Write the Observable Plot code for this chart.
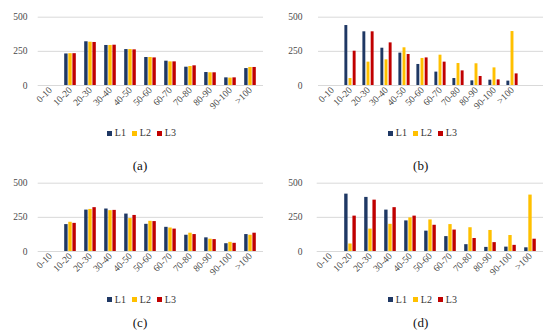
<!DOCTYPE html>
<html><head><meta charset="utf-8">
<script src="https://cdn.jsdelivr.net/npm/d3@7"></script>
<script src="https://cdn.jsdelivr.net/npm/@observablehq/plot@0.6"></script>
<style>
body{margin:0;background:#fff;}
#root{position:relative;width:550px;height:335px;overflow:hidden;background:#fff;font-family:"Liberation Serif","Times New Roman",serif;}
.panel{position:absolute;width:275px;height:168px;}
.panel svg{position:absolute;left:0;top:0;overflow:visible;}
.lg{position:absolute;font-size:10px;color:#333;white-space:nowrap;line-height:1;}
.sw{position:absolute;width:5px;height:5px;}
.cap{position:absolute;font-size:13px;color:#111;transform:translate(-50%,-50%);white-space:nowrap;}
</style></head><body><div id="root"></div>
<script>
const cats = ["0-10","10-20","20-30","30-40","40-50","50-60","60-70","70-80","80-90","90-100",">100"];
const seriesNames = ["L1","L2","L3"];
const colors = ["#1f3864","#ffc000","#c00000"];

const aL1 = [0,231,320,293,263,205,178,134,95,56,124];
const aL2 = [0,233,317,293,263,205,173,139,93,54,132];
const aL3 = [0,233,315,295,261,202,173,144,93,56,132];

const bL1 = [0,439,393,273,237,154,98,51,34,39,32];
const bL2 = [0,51,171,188,276,198,222,161,159,129,395];
const bL3 = [0,251,393,312,227,202,171,107,66,41,85];

const cL1 = [0,197,303,311,274,199,177,119,100,57,124];
const cL2 = [0,214,308,299,241,221,172,134,90,67,119];
const cL3 = [0,206,321,301,264,219,164,124,87,60,134];

const dL1 = [0,420,396,303,224,149,109,50,30,32,27];
const dL2 = [0,55,164,199,246,231,197,174,154,117,413];
const dL3 = [0,259,376,321,259,192,157,95,65,45,90];

const yTicks = [0,250,500];
const captions = ["(a)","(b)","(c)","(d)"];

const layout = [
  {left:0,   top:0,     values:[aL1,aL2,aL3], ml:37.7, mr:12, range:null,          pad:0.4,  gap:0.2, lx:107.3, cx:140,   cy:165.5},
  {left:275, top:0,     values:[bL1,bL2,bL3], ml:43,   mr:7,  range:[43.1,250.5],  pad:0.34, gap:0.4, lx:113.3, cx:145.7, cy:165.5},
  {left:0,   top:166.3, values:[cL1,cL2,cL3], ml:37.7, mr:12, range:null,          pad:0.4,  gap:0.2, lx:107.3, cx:140,   cy:156.7},
  {left:275, top:166.3, values:[dL1,dL2,dL3], ml:41.7, mr:7,  range:null,          pad:0.4,  gap:0.2, lx:113.3, cx:145.7, cy:157.2}
];

const root = document.getElementById("root");
const W = 275, H = 130;

layout.forEach((p, k) => {
  const panel = document.createElement("div");
  panel.className = "panel";
  panel.style.left = p.left + "px";
  panel.style.top = p.top + "px";
  root.appendChild(panel);

  const range = p.range || [p.ml, W - p.mr];
  const band = d3.scaleBand().domain(cats).range(range).paddingInner(p.pad).paddingOuter(p.pad / 2);
  const w3 = band.bandwidth() / 3;

  const marks = [Plot.ruleY(yTicks, {stroke: "#d9d9d9", strokeWidth: 1})];
  seriesNames.forEach((s, i) => {
    const rows = cats.map((c, j) => ({cat: c, series: s, value: p.values[i][j]})).filter(d => d.value > 0);
    marks.push(Plot.barY(rows, {
      x: "cat", y: "value", fill: colors[i],
      insetLeft: i * w3 + p.gap, insetRight: (2 - i) * w3 + p.gap
    }));
  });

  const chart = Plot.plot({
    width: W, height: H,
    marginTop: 16.7, marginBottom: 45, marginLeft: p.ml, marginRight: p.mr,
    x: {domain: cats, range, paddingInner: p.pad, paddingOuter: p.pad / 2, tickSize: 0, tickRotate: -45, tickPadding: 3, label: null},
    y: {domain: [0, 500], ticks: yTicks, tickSize: 0, tickPadding: p.ml - 27, label: null},
    style: {fontFamily: '"Liberation Serif","Times New Roman",serif', fontSize: "9.5px", color: "#4a4a4a", background: "transparent"},
    marks
  });
  panel.appendChild(chart);

  seriesNames.forEach((s, i) => {
    const sw = document.createElement("div");
    sw.className = "sw";
    sw.style.background = colors[i];
    sw.style.left = (p.lx + i * 25) + "px";
    sw.style.top = "130.5px";
    panel.appendChild(sw);
    const t = document.createElement("div");
    t.className = "lg";
    t.textContent = s;
    t.style.left = (p.lx + i * 25 + 7.5) + "px";
    t.style.top = "128.3px";
    panel.appendChild(t);
  });

  const cap = document.createElement("div");
  cap.className = "cap";
  cap.textContent = captions[k];
  cap.style.left = p.cx + "px";
  cap.style.top = p.cy + "px";
  panel.appendChild(cap);
});
</script></body></html>
